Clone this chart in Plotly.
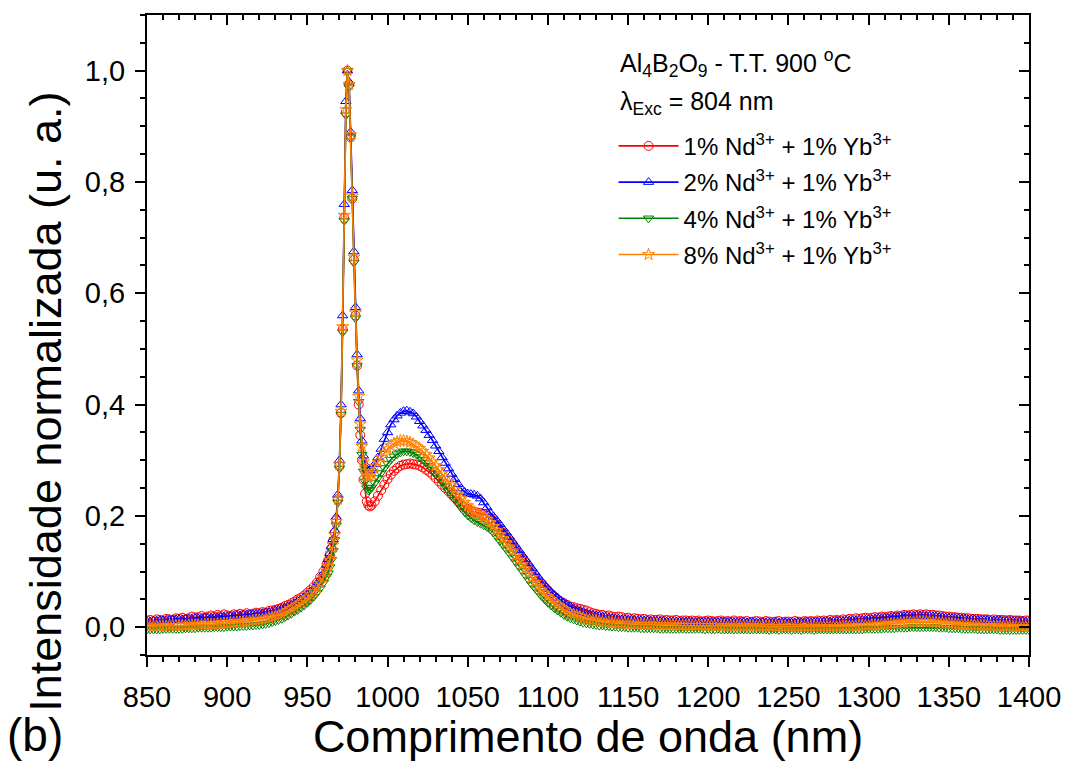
import plotly.graph_objects as go

# Wavelength grid (nm): 2 nm steps, 1 nm steps across the 975 nm band
wavelength = list(range(850, 963, 2)) + list(range(963, 991)) + list(range(992, 1401, 2))

# Normalized emission intensity, Al4B2O9 heat-treated at 900 °C, excitation 804 nm
nd1_yb1 = [
    # 850-962 nm
    0.012, 0.013, 0.011, 0.014, 0.013, 0.012, 0.015, 0.014, 0.013, 0.016,
    0.015, 0.017, 0.014, 0.016, 0.019, 0.017, 0.018, 0.020, 0.017, 0.019,
    0.021, 0.019, 0.022, 0.020, 0.023, 0.021, 0.020, 0.023, 0.022, 0.024,
    0.022, 0.025, 0.023, 0.024, 0.026, 0.025, 0.027, 0.026, 0.029, 0.030,
    0.031, 0.033, 0.035, 0.038, 0.040, 0.043, 0.046, 0.050, 0.053, 0.057,
    0.062, 0.067, 0.073, 0.080, 0.090, 0.100, 0.113,
    # 963-990 nm
    0.120, 0.130, 0.142, 0.155, 0.170, 0.192, 0.230, 0.290, 0.385, 0.535,
    0.735, 0.925, 1.000, 0.975, 0.880, 0.770, 0.660, 0.560, 0.470, 0.400,
    0.345, 0.300, 0.265, 0.240, 0.226, 0.219, 0.217, 0.219,
    # 992-1400 nm
    0.226, 0.236, 0.246, 0.256, 0.266, 0.274, 0.281, 0.286, 0.290, 0.292,
    0.293, 0.294, 0.293, 0.292, 0.290, 0.287, 0.283, 0.279, 0.274, 0.268,
    0.262, 0.256, 0.250, 0.244, 0.238, 0.232, 0.226, 0.221, 0.216, 0.212,
    0.209, 0.207, 0.206, 0.205, 0.203, 0.200, 0.196, 0.191, 0.184, 0.176,
    0.169, 0.162, 0.155, 0.148, 0.140, 0.132, 0.124, 0.116, 0.108, 0.101,
    0.093, 0.086, 0.079, 0.072, 0.066, 0.060, 0.055, 0.050, 0.046, 0.043,
    0.040, 0.037, 0.036, 0.034, 0.033, 0.031, 0.030, 0.027, 0.025, 0.024,
    0.022, 0.022, 0.020, 0.021, 0.019, 0.018, 0.019, 0.018, 0.016, 0.017,
    0.015, 0.016, 0.015, 0.014, 0.015, 0.013, 0.014, 0.013, 0.013, 0.014,
    0.012, 0.013, 0.012, 0.012, 0.013, 0.011, 0.012, 0.012, 0.011, 0.012,
    0.011, 0.012, 0.010, 0.011, 0.012, 0.011, 0.010, 0.011, 0.012, 0.010,
    0.011, 0.010, 0.012, 0.010, 0.011, 0.010, 0.011, 0.009, 0.010, 0.011,
    0.010, 0.009, 0.011, 0.010, 0.009, 0.010, 0.011, 0.009, 0.010, 0.010,
    0.009, 0.011, 0.010, 0.009, 0.011, 0.010, 0.011, 0.010, 0.012, 0.011,
    0.012, 0.011, 0.013, 0.012, 0.013, 0.012, 0.014, 0.013, 0.015, 0.014,
    0.016, 0.015, 0.016, 0.017, 0.016, 0.017, 0.018, 0.017, 0.019, 0.018,
    0.019, 0.020, 0.019, 0.021, 0.020, 0.022, 0.021, 0.022, 0.023, 0.022,
    0.023, 0.022, 0.023, 0.022, 0.022, 0.021, 0.021, 0.020, 0.019, 0.019,
    0.018, 0.018, 0.017, 0.017, 0.016, 0.016, 0.015, 0.015, 0.015, 0.014,
    0.014, 0.014, 0.013, 0.014, 0.013, 0.013, 0.013, 0.012, 0.013, 0.012,
    0.012, 0.012, 0.011, 0.012, 0.012,
]

nd2_yb1 = [
    # 850-962 nm
    0.010, 0.010, 0.011, 0.011, 0.012, 0.012, 0.013, 0.013, 0.013, 0.014,
    0.014, 0.014, 0.015, 0.015, 0.015, 0.016, 0.016, 0.016, 0.017, 0.017,
    0.017, 0.017, 0.018, 0.018, 0.019, 0.019, 0.020, 0.020, 0.021, 0.021,
    0.022, 0.022, 0.023, 0.023, 0.024, 0.024, 0.025, 0.026, 0.027, 0.028,
    0.030, 0.031, 0.033, 0.035, 0.038, 0.040, 0.043, 0.047, 0.050, 0.054,
    0.059, 0.064, 0.070, 0.077, 0.086, 0.097, 0.112,
    # 963-990 nm
    0.122, 0.133, 0.145, 0.158, 0.174, 0.198, 0.238, 0.300, 0.400, 0.560,
    0.760, 0.945, 1.000, 0.980, 0.890, 0.785, 0.675, 0.575, 0.490, 0.425,
    0.375, 0.335, 0.308, 0.292, 0.284, 0.281, 0.282, 0.286,
    # 992-1400 nm
    0.293, 0.305, 0.320, 0.338, 0.350, 0.364, 0.373, 0.380, 0.385, 0.388,
    0.389, 0.387, 0.384, 0.378, 0.370, 0.362, 0.354, 0.345, 0.336, 0.326,
    0.316, 0.305, 0.295, 0.285, 0.275, 0.266, 0.257, 0.249, 0.243, 0.240,
    0.239, 0.238, 0.236, 0.231, 0.224, 0.215, 0.206, 0.199, 0.192, 0.185,
    0.177, 0.170, 0.162, 0.154, 0.146, 0.138, 0.130, 0.122, 0.114, 0.106,
    0.098, 0.089, 0.082, 0.076, 0.069, 0.063, 0.058, 0.053, 0.048, 0.044,
    0.040, 0.037, 0.034, 0.031, 0.029, 0.027, 0.025, 0.023, 0.022, 0.021,
    0.020, 0.019, 0.018, 0.017, 0.016, 0.015, 0.015, 0.014, 0.014, 0.013,
    0.013, 0.013, 0.012, 0.012, 0.012, 0.012, 0.011, 0.011, 0.011, 0.011,
    0.011, 0.010, 0.010, 0.010, 0.010, 0.010, 0.010, 0.010, 0.010, 0.009,
    0.009, 0.010, 0.009, 0.009, 0.010, 0.009, 0.009, 0.009, 0.010, 0.009,
    0.009, 0.009, 0.009, 0.008, 0.009, 0.009, 0.008, 0.009, 0.009, 0.008,
    0.008, 0.009, 0.008, 0.008, 0.008, 0.009, 0.008, 0.008, 0.009, 0.008,
    0.008, 0.008, 0.009, 0.008, 0.009, 0.009, 0.009, 0.009, 0.010, 0.009,
    0.010, 0.010, 0.010, 0.010, 0.011, 0.011, 0.011, 0.011, 0.012, 0.012,
    0.012, 0.013, 0.013, 0.013, 0.014, 0.014, 0.015, 0.015, 0.016, 0.017,
    0.017, 0.018, 0.018, 0.019, 0.019, 0.020, 0.020, 0.020, 0.020, 0.021,
    0.021, 0.020, 0.020, 0.020, 0.019, 0.019, 0.018, 0.018, 0.017, 0.017,
    0.016, 0.016, 0.016, 0.015, 0.015, 0.014, 0.014, 0.014, 0.013, 0.013,
    0.013, 0.013, 0.012, 0.012, 0.012, 0.012, 0.011, 0.011, 0.011, 0.011,
    0.011, 0.011, 0.011, 0.010, 0.010,
]

nd4_yb1 = [
    # 850-962 nm
    -0.004, -0.004, -0.004, -0.004, -0.004, -0.003, -0.003, -0.003, -0.003, -0.003,
    -0.003, -0.003, -0.002, -0.002, -0.002, -0.002, -0.001, -0.001, -0.001, -0.001,
    -0.001, 0.000, 0.000, 0.000, 0.000, 0.001, 0.001, 0.001, 0.001, 0.002,
    0.002, 0.002, 0.003, 0.003, 0.004, 0.004, 0.005, 0.006, 0.007, 0.009,
    0.011, 0.013, 0.015, 0.018, 0.021, 0.024, 0.028, 0.031, 0.035, 0.039,
    0.044, 0.049, 0.055, 0.062, 0.070, 0.080, 0.091,
    # 963-990 nm
    0.097, 0.108, 0.121, 0.137, 0.157, 0.183, 0.224, 0.285, 0.382, 0.530,
    0.730, 0.920, 1.000, 0.970, 0.880, 0.770, 0.655, 0.555, 0.470, 0.405,
    0.355, 0.310, 0.280, 0.262, 0.250, 0.246, 0.247, 0.251,
    # 992-1400 nm
    0.259, 0.268, 0.277, 0.286, 0.294, 0.301, 0.307, 0.311, 0.314, 0.316,
    0.316, 0.315, 0.313, 0.310, 0.306, 0.301, 0.296, 0.290, 0.283, 0.276,
    0.268, 0.261, 0.253, 0.245, 0.237, 0.229, 0.222, 0.214, 0.207, 0.201,
    0.196, 0.192, 0.189, 0.186, 0.183, 0.180, 0.176, 0.170, 0.163, 0.155,
    0.148, 0.140, 0.133, 0.125, 0.117, 0.109, 0.101, 0.093, 0.085, 0.077,
    0.070, 0.063, 0.056, 0.050, 0.044, 0.039, 0.034, 0.030, 0.026, 0.022,
    0.019, 0.016, 0.014, 0.012, 0.010, 0.008, 0.007, 0.006, 0.005, 0.004,
    0.003, 0.003, 0.002, 0.002, 0.001, 0.001, 0.000, 0.000, 0.000, -0.001,
    -0.001, -0.001, -0.001, -0.002, -0.002, -0.002, -0.002, -0.002, -0.002, -0.003,
    -0.003, -0.003, -0.003, -0.003, -0.003, -0.003, -0.003, -0.003, -0.003, -0.003,
    -0.003, -0.003, -0.003, -0.004, -0.003, -0.004, -0.004, -0.003, -0.004, -0.004,
    -0.004, -0.004, -0.004, -0.004, -0.004, -0.004, -0.004, -0.004, -0.004, -0.004,
    -0.004, -0.004, -0.004, -0.005, -0.004, -0.004, -0.005, -0.004, -0.004, -0.004,
    -0.005, -0.004, -0.004, -0.005, -0.004, -0.004, -0.004, -0.005, -0.004, -0.004,
    -0.004, -0.004, -0.004, -0.004, -0.004, -0.004, -0.004, -0.004, -0.004, -0.004,
    -0.004, -0.004, -0.004, -0.003, -0.003, -0.003, -0.003, -0.003, -0.003, -0.002,
    -0.002, -0.002, -0.002, -0.001, -0.001, -0.001, -0.001, 0.000, 0.000, 0.000,
    0.000, 0.000, 0.000, 0.000, 0.000, 0.000, -0.001, -0.001, -0.001, -0.002,
    -0.002, -0.002, -0.002, -0.003, -0.003, -0.003, -0.003, -0.003, -0.004, -0.004,
    -0.004, -0.004, -0.004, -0.004, -0.004, -0.005, -0.005, -0.005, -0.005, -0.005,
    -0.005, -0.005, -0.005, -0.005, -0.005,
]

nd8_yb1 = [
    # 850-962 nm
    0.002, 0.002, 0.002, 0.002, 0.002, 0.002, 0.002, 0.003, 0.003, 0.003,
    0.003, 0.003, 0.003, 0.004, 0.004, 0.004, 0.004, 0.004, 0.005, 0.005,
    0.005, 0.005, 0.006, 0.006, 0.007, 0.007, 0.008, 0.008, 0.009, 0.009,
    0.010, 0.010, 0.011, 0.012, 0.013, 0.013, 0.014, 0.015, 0.017, 0.018,
    0.020, 0.022, 0.024, 0.027, 0.030, 0.033, 0.036, 0.040, 0.044, 0.048,
    0.053, 0.058, 0.064, 0.071, 0.079, 0.089, 0.101,
    # 963-990 nm
    0.109, 0.120, 0.133, 0.148, 0.166, 0.190, 0.230, 0.292, 0.388, 0.540,
    0.740, 0.930, 1.000, 0.975, 0.885, 0.775, 0.665, 0.565, 0.480, 0.415,
    0.365, 0.325, 0.297, 0.280, 0.272, 0.270, 0.272, 0.276,
    # 992-1400 nm
    0.289, 0.297, 0.305, 0.313, 0.320, 0.326, 0.330, 0.333, 0.335, 0.335,
    0.334, 0.332, 0.329, 0.325, 0.321, 0.316, 0.310, 0.304, 0.297, 0.290,
    0.283, 0.276, 0.269, 0.262, 0.255, 0.247, 0.239, 0.231, 0.224, 0.218,
    0.212, 0.207, 0.203, 0.200, 0.197, 0.193, 0.188, 0.181, 0.174, 0.166,
    0.159, 0.152, 0.144, 0.137, 0.129, 0.121, 0.113, 0.105, 0.097, 0.089,
    0.081, 0.074, 0.067, 0.061, 0.055, 0.050, 0.045, 0.040, 0.036, 0.032,
    0.028, 0.025, 0.023, 0.021, 0.019, 0.017, 0.015, 0.014, 0.013, 0.012,
    0.011, 0.010, 0.009, 0.009, 0.008, 0.008, 0.007, 0.007, 0.007, 0.006,
    0.006, 0.006, 0.005, 0.005, 0.005, 0.005, 0.005, 0.004, 0.004, 0.004,
    0.004, 0.004, 0.004, 0.004, 0.004, 0.003, 0.003, 0.003, 0.003, 0.003,
    0.003, 0.003, 0.003, 0.003, 0.003, 0.003, 0.002, 0.003, 0.002, 0.002,
    0.002, 0.002, 0.002, 0.002, 0.002, 0.002, 0.002, 0.002, 0.002, 0.002,
    0.002, 0.001, 0.002, 0.001, 0.001, 0.002, 0.001, 0.001, 0.001, 0.001,
    0.001, 0.001, 0.001, 0.001, 0.001, 0.001, 0.001, 0.001, 0.001, 0.001,
    0.001, 0.001, 0.001, 0.001, 0.001, 0.001, 0.002, 0.002, 0.002, 0.002,
    0.002, 0.003, 0.003, 0.003, 0.003, 0.004, 0.004, 0.004, 0.005, 0.005,
    0.006, 0.006, 0.007, 0.007, 0.008, 0.008, 0.009, 0.009, 0.009, 0.010,
    0.010, 0.010, 0.010, 0.010, 0.009, 0.009, 0.008, 0.008, 0.007, 0.007,
    0.006, 0.006, 0.005, 0.005, 0.005, 0.004, 0.004, 0.004, 0.003, 0.003,
    0.003, 0.003, 0.003, 0.002, 0.002, 0.002, 0.002, 0.002, 0.002, 0.001,
    0.001, 0.001, 0.001, 0.001, 0.001,
]

series_names = [
    "1% Nd<sup>3+</sup> + 1% Yb<sup>3+</sup>",
    "2% Nd<sup>3+</sup> + 1% Yb<sup>3+</sup>",
    "4% Nd<sup>3+</sup> + 1% Yb<sup>3+</sup>",
    "8% Nd<sup>3+</sup> + 1% Yb<sup>3+</sup>",
]
series_values = [nd1_yb1, nd2_yb1, nd4_yb1, nd8_yb1]
series_colors = ["#FF0000", "#0000FF", "#008000", "#FF8000"]
series_symbols = ["circle-open", "triangle-up-open", "triangle-down-open", "star-open"]

for vals in series_values:
    assert len(vals) == len(wavelength)

FONT = "Liberation Sans, Arial, sans-serif"

fig = go.Figure()
for i, (name, vals, color, symbol) in enumerate(
        zip(series_names, series_values, series_colors, series_symbols)):
    fig.add_trace(go.Scatter(
        x=wavelength, y=vals, name=name, mode="lines+markers",
        line=dict(color=color, width=1.6),
        marker=dict(symbol=symbol, size=9, color=color, line=dict(color=color, width=1)),
        legendgroup=f"g{i}",
    ))

# Empty traces that bring up the top and right frame axes (ticks pointing inward)
fig.add_trace(go.Scatter(x=[None], y=[None], xaxis="x2", yaxis="y",
                         showlegend=False, hoverinfo="skip"))
fig.add_trace(go.Scatter(x=[None], y=[None], xaxis="x", yaxis="y2",
                         showlegend=False, hoverinfo="skip"))

frame = dict(showline=True, linecolor="black", linewidth=2, showgrid=False,
             zeroline=False, tickcolor="black", tickwidth=2)

x_range = [850, 1400]
y_range = [-0.05, 1.1]

fig.update_layout(
    width=1073, height=762,
    margin=dict(l=147, r=41, t=15, b=107),
    paper_bgcolor="white", plot_bgcolor="white",
    separators=",.",
    font=dict(family=FONT, color="black"),
    xaxis=dict(
        range=x_range, tick0=850, dtick=50, ticks="outside", ticklen=10,
        minor=dict(dtick=10, ticklen=5, tickwidth=2, tickcolor="black", ticks="outside"),
        tickfont=dict(size=29, family=FONT, color="black"), ticklabelstandoff=5,
        title=dict(text="Comprimento de onda (nm)", font=dict(size=45, family=FONT),
                   standoff=6),
        **frame),
    yaxis=dict(
        range=y_range, tick0=0, dtick=0.2, tickformat=".1f", ticks="outside", ticklen=10,
        minor=dict(dtick=0.05, ticklen=5, tickwidth=2, tickcolor="black", ticks="outside"),
        tickfont=dict(size=29, family=FONT, color="black"), ticklabelstandoff=4,
        **frame),
    xaxis2=dict(
        range=x_range, overlaying="x", side="top", anchor="y", tick0=850, dtick=50,
        ticks="inside", ticklen=10, showticklabels=False,
        minor=dict(dtick=10, ticklen=5, tickwidth=2, tickcolor="black", ticks="inside"),
        **frame),
    yaxis2=dict(
        range=y_range, overlaying="y", side="right", anchor="x", tick0=0, dtick=0.2,
        ticks="inside", ticklen=10, showticklabels=False,
        minor=dict(dtick=0.05, ticklen=5, tickwidth=2, tickcolor="black", ticks="inside"),
        **frame),
    legend=dict(
        x=0.529, y=0.83, xanchor="left", yanchor="top",
        bgcolor="rgba(0,0,0,0)", borderwidth=0,
        font=dict(size=24, family=FONT, color="black"),
        traceorder="grouped", tracegroupgap=2, itemwidth=60,
    ),
    annotations=[
        dict(text="Intensidade normalizada (u. a.)", textangle=-90,
             xref="paper", yref="paper", x=-0.115, y=0.395, xanchor="center",
             yanchor="middle", showarrow=False, font=dict(size=45, family=FONT)),
        dict(text="Al<sub>4</sub>B<sub>2</sub>O<sub>9</sub> - T.T. 900 <sup>o</sup>C",
             xref="paper", yref="paper", x=0.5345, y=0.925, xanchor="left",
             yanchor="middle", showarrow=False, font=dict(size=25, family=FONT)),
        dict(text="λ<sub>Exc</sub> = 804 nm",
             xref="paper", yref="paper", x=0.5345, y=0.862, xanchor="left",
             yanchor="middle", showarrow=False, font=dict(size=25, family=FONT)),
        dict(text="(b)", xref="paper", yref="paper", x=-0.161, y=-0.125,
             xanchor="left", yanchor="middle", showarrow=False,
             font=dict(size=46, family=FONT)),
    ],
)

fig.write_html("out.html")
